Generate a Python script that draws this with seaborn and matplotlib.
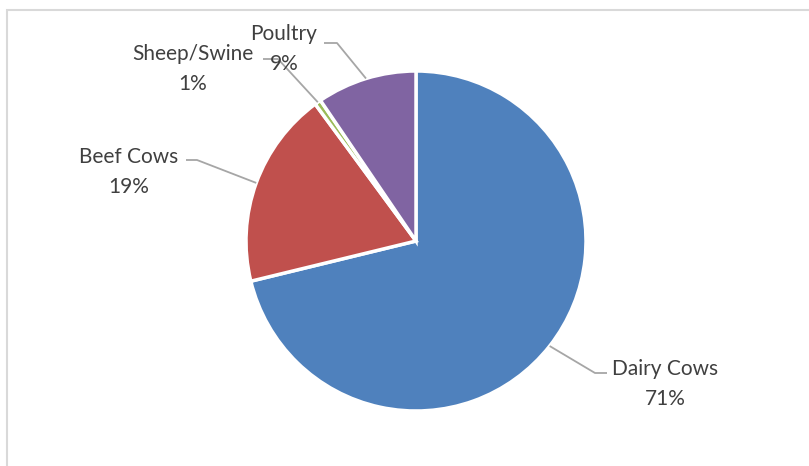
"""Livestock share pie chart"""

import numpy as np
import matplotlib.pyplot as plt
from matplotlib.patches import Rectangle
import seaborn as sns

# data
categories = ["Dairy Cows", "Beef Cows", "Sheep/Swine", "Poultry"]
shares = [71.2, 18.7, 0.6, 9.5]
pct_labels = ["71%", "19%", "1%", "9%"]
colors = ["#4F81BD", "#C0504D", "#9BBB59", "#8064A2"]

W, H = 809, 466
CX, CY, R = 416, 241, 170

# label layout in pixels: text centre, horizontal leader start and elbow
label_pos = [(665, 384), (129, 172), (193, 69), (284, 49)]
leader_end = [(607, 373), (186, 160), (263, 59), (324, 43)]
leader_elbow = [(595, 373), (197, 160), (278, 59), (337, 43)]


def px(p):
    """pixel -> data units (pie radius = 1)"""
    return (p[0] - CX) / R, (CY - p[1]) / R


def main() -> None:
    sns.set_theme(style="white")
    plt.rcParams["font.family"] = ["Lato", "DejaVu Sans"]

    fig = plt.figure(figsize=(W / 100, H / 100), dpi=100)
    ax = fig.add_axes([0, 0, 1, 1])
    wedges, _ = ax.pie(
        shares,
        colors=sns.color_palette(colors),
        startangle=90,
        counterclock=False,
        wedgeprops=dict(edgecolor="white", linewidth=2.5),
    )
    ax.set_aspect("auto")
    ax.set_xlim(-CX / R, (W - CX) / R)
    ax.set_ylim(-(H - CY) / R, CY / R)
    ax.axis("off")

    for w, name, pct, pos, end, elbow in zip(
        wedges, categories, pct_labels, label_pos, leader_end, leader_elbow
    ):
        mid = np.deg2rad((w.theta1 + w.theta2) / 2)
        anchor = (np.cos(mid), np.sin(mid))
        e1, e2 = px(end), px(elbow)
        ax.plot([anchor[0], e2[0], e1[0]], [anchor[1], e2[1], e1[1]],
                color="#A6A6A6", lw=1.3, solid_capstyle="butt")
        tx, ty = px(pos)
        ax.text(tx, ty, f"{name}\n{pct}", ha="center", va="center",
                fontsize=15, color="#404040", linespacing=1.6)

    # chart area border
    fig.patches.append(Rectangle((7 / W, -0.01), 1.0, 1 - 10 / H + 0.01,
                                 transform=fig.transFigure, fill=False,
                                 edgecolor="#D9D9D9", lw=1.5))
    fig.savefig("out.png", dpi=100)


if __name__ == "__main__":
    main()
